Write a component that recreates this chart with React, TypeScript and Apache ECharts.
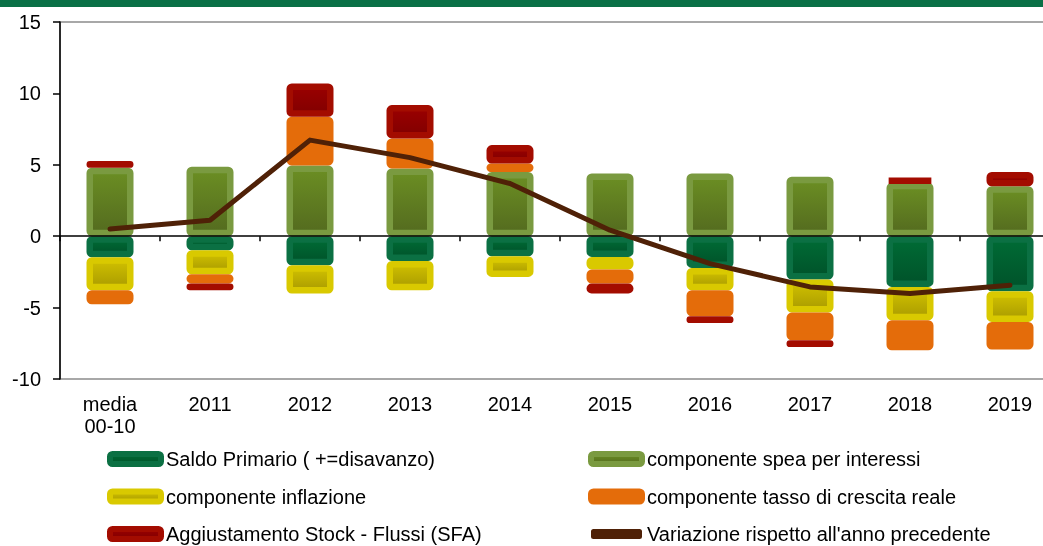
import React, { useEffect, useRef } from 'react';
import * as echarts from 'echarts';

const categories = ['media\n00-10', '2011', '2012', '2013', '2014', '2015', '2016', '2017', '2018', '2019'];
const saldoPrimario = [-1.47, -0.98, -2.03, -1.73, -1.4, -1.45, -2.22, -3.03, -3.55, -3.85];
const spesaInteressi = [4.79, 4.86, 4.95, 4.74, 4.5, 4.39, 4.39, 4.16, 3.74, 3.5];
const inflazione = [-2.31, -1.68, -1.99, -2.05, -1.45, -0.88, -1.56, -2.32, -2.34, -2.15];
const crescitaReale = [-0.99, -0.65, 3.41, 2.11, 0.59, -0.98, -1.83, -1.94, -2.1, -1.94];
const sfa = [0.47, -0.47, 2.34, 2.33, 1.29, -0.71, -0.47, -0.47, 0.3, 1.0];
const variazione = [0.5, 1.12, 6.73, 5.5, 3.69, 0.42, -1.92, -3.55, -4.02, -3.43];
const yTicks = { min: -10, max: 15, interval: 5 };

const names = {
  saldo: 'Saldo Primario ( +=disavanzo)',
  interessi: 'componente spea per interessi',
  inflazione: 'componente inflazione',
  crescita: 'componente tasso di crescita reale',
  sfa: 'Aggiustamento Stock - Flussi (SFA)',
  variazione: "Variazione rispetto all'anno precedente",
};

const FONT = '"Liberation Sans", Arial, sans-serif';

export default function App() {
  const ref = useRef<HTMLDivElement>(null);
  useEffect(() => {
    document.body.style.margin = '0';
    document.body.style.overflow = 'hidden';
    const chart = echarts.init(ref.current!, null, { renderer: 'svg' });
    const grad = (a: string, b: string) =>
      new echarts.graphic.LinearGradient(0, 0, 0, 1, [
        { offset: 0, color: a },
        { offset: 1, color: b },
      ]);
    const bar = (name: string, data: number[], fill: any, border: string) => ({
      name,
      type: 'bar',
      stack: 'tot',
      data,
      barWidth: 47,
      itemStyle: { color: fill, borderColor: border, borderWidth: 6.5, borderRadius: 2 },
      emphasis: { disabled: true },
    });
    const legendCommon = {
      orient: 'vertical',
      padding: 0,
      height: 120,
      itemWidth: 51,
      itemHeight: 10,
      itemGap: 17.5,
      icon: 'roundRect',
      textStyle: { fontSize: 20, lineHeight: 20, color: '#000', fontFamily: FONT },
      itemStyle: { borderWidth: 6 },
      lineStyle: { width: 5, cap: 'round' },
      selectedMode: false,
    };
    chart.setOption({
      animation: false,
      textStyle: { fontFamily: FONT },
      graphic: [
        { type: 'rect', left: 0, top: 0, shape: { width: 1100, height: 7 }, style: { fill: '#0A7046' } },
      ],
      grid: {
        left: 60,
        top: 22,
        width: 1000,
        height: 357,
        outerBoundsMode: 'none',
        show: true,
        borderColor: '#8c8c8c',
        borderWidth: 1.5,
        backgroundColor: 'transparent',
      },
      legend: [
        { ...legendCommon, left: 107, top: 449, data: [names.saldo, names.inflazione, names.sfa] },
        { ...legendCommon, left: 588, top: 449, data: [names.interessi, names.crescita, names.variazione] },
      ],
      xAxis: [
        {
          type: 'category',
          data: categories,
          position: 'bottom',
          axisLine: { show: false, onZero: false },
          axisTick: { show: false },
          axisLabel: { fontSize: 20, lineHeight: 22, color: '#000', margin: 14, fontFamily: FONT },
        },
        {
          type: 'category',
          data: categories,
          position: 'top',
          z: 3,
          axisLine: { show: true, onZero: true, onZeroAxisIndex: 0, lineStyle: { color: '#000', width: 1.5 } },
          axisTick: { show: true, inside: true, length: 5, lineStyle: { color: '#000', width: 1.5 } },
          axisLabel: { show: false },
        },
      ],
      yAxis: {
        type: 'value',
        min: yTicks.min,
        max: yTicks.max,
        interval: yTicks.interval,
        axisLine: { show: true, onZero: false, lineStyle: { color: '#000', width: 1.5 } },
        axisTick: { show: true, length: 7, lineStyle: { color: '#000', width: 1.5 } },
        axisLabel: { fontSize: 20, color: '#000', margin: 19, fontFamily: FONT },
        splitLine: { show: false },
      },
      series: [
        bar(names.saldo, saldoPrimario, grad('#006B35', '#00532A'), '#0B7043'),
        bar(names.interessi, spesaInteressi, grad('#6B8E23', '#546B1F'), '#7A9A40'),
        bar(names.inflazione, inflazione, grad('#D0C000', '#AA9C00'), '#D9C900'),
        bar(names.crescita, crescitaReale, '#E46C0A', '#E46C0A'),
        bar(names.sfa, sfa, grad('#9A0000', '#820000'), '#A30C00'),
        {
          name: names.variazione,
          type: 'line',
          data: variazione,
          symbol: 'none',
          z: 5,
          itemStyle: { color: '#4F2107' },
          lineStyle: { color: '#4F2107', width: 5, cap: 'round', join: 'round' },
          emphasis: { disabled: true },
        },
      ],
    });
    return () => chart.dispose();
  }, []);
  return <div ref={ref} style={{ position: 'fixed', left: 0, top: 0, width: 1100, height: 546 }} />;
}
